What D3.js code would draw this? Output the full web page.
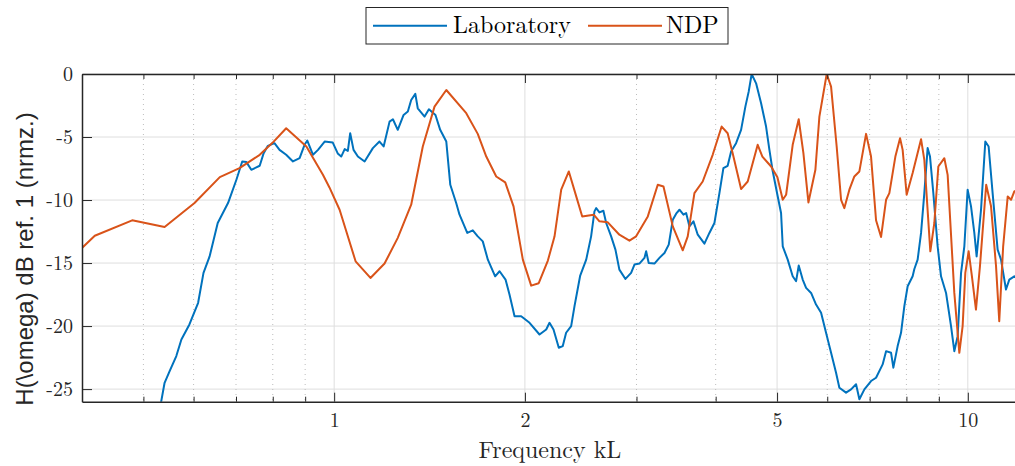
<!DOCTYPE html>
<html><head><meta charset="utf-8">
<script src="https://cdn.jsdelivr.net/npm/d3@7"></script>
<style>body{margin:0;background:#fff}svg{display:block}</style>
</head><body>
<svg id="chart" width="1015" height="466"></svg>
<script>
// ---- data ----
const seriesNames = ["Laboratory", "NDP"];
const labFreq = [0.532,0.540,0.550,0.5635,0.574,0.591,0.610,0.622,0.636,0.655,0.680,0.701,0.716,0.727,0.740,0.763,0.774,0.786,0.805,0.820,0.840,0.861,0.882,0.898,0.907,0.926,0.943,0.966,0.995,1.013,1.026,1.039,1.051,1.060,1.073,1.090,1.117,1.151,1.179,1.197,1.223,1.238,1.260,1.287,1.307,1.323,1.343,1.355,1.389,1.411,1.445,1.470,1.503,1.525,1.558,1.577,1.622,1.655,1.685,1.716,1.748,1.795,1.824,1.864,1.891,1.926,1.973,2.034,2.109,2.161,2.187,2.219,2.262,2.295,2.323,2.366,2.395,2.445,2.499,2.544,2.575,2.591,2.622,2.660,2.687,2.736,2.779,2.819,2.882,2.942,2.978,3.032,3.088,3.107,3.136,3.202,3.261,3.321,3.373,3.423,3.465,3.507,3.558,3.593,3.636,3.690,3.748,3.840,3.910,3.982,4.055,4.114,4.178,4.231,4.308,4.387,4.456,4.510,4.559,4.633,4.718,4.804,4.862,4.921,5.011,5.073,5.104,5.197,5.292,5.358,5.409,5.488,5.556,5.658,5.761,5.867,5.974,6.084,6.195,6.270,6.424,6.542,6.662,6.743,6.867,7.035,7.164,7.338,7.430,7.566,7.629,7.749,7.845,7.940,8.036,8.183,8.234,8.333,8.437,8.538,8.641,8.716,8.822,8.961,9.072,9.239,9.408,9.521,9.637,9.757,9.874,9.993,10.117,10.239,10.325,10.491,10.656,10.785,10.943,11.144,11.282,11.487,11.627,11.84,12.0];
const labDb = [-26.3,-24.5,-23.57,-22.38,-21.06,-19.87,-18.15,-15.78,-14.47,-11.82,-10.24,-8.39,-6.94,-6.99,-7.6,-7.28,-6.28,-5.7,-5.49,-6.02,-6.41,-6.94,-6.68,-5.62,-5.28,-6.41,-6.02,-5.36,-5.44,-6.3,-6.55,-5.96,-6.1,-4.7,-6.02,-6.55,-6.94,-5.88,-5.36,-5.75,-3.78,-3.59,-4.43,-3.25,-2.98,-2.06,-1.58,-2.72,-3.38,-2.8,-3.25,-4.43,-5.36,-8.79,-10.24,-11.16,-12.61,-12.4,-12.88,-13.28,-14.73,-16.05,-15.65,-16.31,-17.5,-19.22,-19.22,-19.74,-20.67,-20.27,-19.74,-20.27,-21.72,-21.59,-20.53,-20.0,-18.42,-15.99,-14.73,-12.88,-10.9,-10.64,-10.98,-10.85,-11.82,-12.88,-13.93,-15.52,-16.26,-15.78,-15.12,-15.04,-14.59,-14.07,-14.99,-15.04,-14.59,-14.2,-13.54,-11.56,-11.08,-10.77,-11.16,-11.03,-12.09,-11.69,-12.75,-13.46,-12.61,-11.82,-9.45,-7.47,-7.28,-6.15,-5.49,-4.43,-2.59,-1.4,0,-0.74,-2.32,-4.17,-6.0,-7.7,-9.7,-11.03,-13.67,-14.73,-16.05,-16.44,-15.2,-16.31,-16.97,-17.37,-18.29,-18.95,-20.53,-22.12,-23.7,-24.89,-25.28,-25.02,-24.62,-25.81,-25.02,-24.36,-24.1,-23.04,-21.99,-22.12,-23.3,-21.59,-20.53,-18.42,-16.84,-16.05,-15.47,-14.73,-12.61,-9.45,-5.88,-6.55,-9.45,-13.67,-16.05,-17.37,-20.0,-21.99,-20.8,-15.78,-13.67,-9.18,-10.5,-12.61,-14.47,-10.77,-5.36,-5.75,-9.45,-13.93,-14.73,-17.1,-16.31,-16.05,-16.3];
const ndpFreq = [0.400,0.419,0.480,0.540,0.602,0.660,0.709,0.763,0.800,0.840,0.904,0.960,0.983,1.020,1.081,1.141,1.201,1.260,1.323,1.380,1.440,1.503,1.616,1.685,1.738,1.802,1.862,1.919,1.985,2.046,2.103,2.174,2.227,2.282,2.346,2.410,2.463,2.568,2.622,2.703,2.819,2.924,2.996,3.126,3.241,3.309,3.423,3.549,3.614,3.703,3.816,3.957,4.088,4.178,4.255,4.387,4.494,4.660,4.740,4.893,5.006,5.104,5.167,5.292,5.409,5.502,5.603,5.747,5.831,5.988,6.084,6.209,6.309,6.385,6.502,6.621,6.743,6.909,7.035,7.164,7.296,7.430,7.519,7.685,7.817,7.891,8.007,8.183,8.437,8.538,8.726,8.854,8.984,9.182,9.293,9.521,9.696,9.813,9.909,10.03,10.15,10.30,10.45,10.69,10.88,11.08,11.21,11.37,11.56,11.70,11.84,12.0];
const ndpDb = [-13.8,-12.83,-11.61,-12.14,-10.24,-8.18,-7.47,-6.41,-5.44,-4.30,-5.75,-8.0,-9.0,-10.77,-14.86,-16.18,-15.04,-13.0,-10.37,-5.75,-2.59,-1.27,-3.11,-4.75,-6.55,-8.13,-8.6,-10.5,-14.73,-16.79,-16.6,-14.8,-12.9,-9.18,-7.73,-9.71,-11.3,-11.16,-11.69,-11.77,-12.75,-13.22,-12.88,-11.3,-8.79,-8.92,-12.09,-13.99,-12.88,-9.45,-8.53,-6.41,-4.17,-4.7,-6.28,-9.13,-8.53,-5.62,-6.55,-7.34,-8.2,-9.98,-9.58,-5.62,-3.59,-6.28,-10.19,-7.6,-3.38,0,-1.0,-5.75,-9.98,-10.64,-9.18,-8.13,-7.73,-4.75,-6.55,-11.6,-12.93,-9.98,-9.45,-6.55,-5.09,-6.02,-9.58,-7.86,-5.17,-6.81,-14.07,-11.82,-7.34,-6.68,-8.0,-17.37,-22.12,-20.0,-15.78,-14.07,-16.05,-18.69,-15.26,-8.79,-10.5,-15.26,-19.61,-13.67,-9.71,-9.98,-9.32,-9.2];
const xMajorTicks = [1, 2, 5, 10];
const xTickLabels = ["1", "2", "5", "10"];
const xMinorTicks = [0.5, 0.6, 0.7, 0.8, 0.9, 3, 4, 6, 7, 8, 9];
const yTicks = [0, -5, -10, -15, -20, -25];
const yTickLabels = ["0", "-5", "-10", "-15", "-20", "-25"];
const xLabel = "Frequency kL";
const yLabel = "H(\\omega) dB ref. 1 (nrmz.)";

// ---- layout ----
const colors = ["#0072BD", "#D95319"];
const axisColor = "#262626";
const L = 82, R = 1018, T = 74, B = 401.7;
const SERIF = '"Latin Modern Roman"';
const SANS = '"Liberation Sans"';
const svg = d3.select("#chart");
const x = d3.scaleLog().domain([0.4, 12]).range([L, R]);
const y = d3.scaleLinear().domain([-26, 0]).range([B, T]);

// grid
const grid = svg.append("g");
grid.selectAll("line.ym").data(yTicks).join("line")
  .attr("x1", L).attr("x2", R).attr("y1", d => y(d)).attr("y2", d => y(d))
  .attr("stroke", "#dedede").attr("stroke-width", 1);
grid.selectAll("line.xm").data(xMajorTicks).join("line")
  .attr("x1", d => x(d)).attr("x2", d => x(d)).attr("y1", T).attr("y2", B)
  .attr("stroke", "#dedede").attr("stroke-width", 1);
grid.selectAll("line.xn").data(xMinorTicks).join("line")
  .attr("x1", d => x(d)).attr("x2", d => x(d)).attr("y1", T).attr("y2", B)
  .attr("stroke", "#bdbdbd").attr("stroke-width", 1).attr("stroke-dasharray", "1,4");

// clip
svg.append("clipPath").attr("id", "clip").append("rect")
  .attr("x", L).attr("y", T).attr("width", R - L).attr("height", B - T);

const line = d3.line().x(d => x(d[0])).y(d => y(d[1]));
const plot = svg.append("g").attr("clip-path", "url(#clip)");
const series = [d3.zip(labFreq, labDb), d3.zip(ndpFreq, ndpDb)];
series.forEach((s, i) => {
  plot.append("path").datum(s).attr("d", line)
    .attr("fill", "none").attr("stroke", colors[i]).attr("stroke-width", 2)
    .attr("stroke-linejoin", "round");
});

// axes
function styleAxis(g) {
  g.attr("font-family", null).attr("font-size", null);
  g.select(".domain").attr("stroke", axisColor).attr("stroke-width", 1.5);
  g.selectAll(".tick line").attr("stroke", axisColor).attr("stroke-width", 1);
  g.selectAll(".tick text").attr("fill", axisColor).style("font-family", SERIF).style("font-size", "20px");
}
const xb = svg.append("g").attr("transform", `translate(0,${B})`)
  .call(d3.axisBottom(x).tickValues(xMajorTicks).tickFormat((d, i) => xTickLabels[i]).tickSizeInner(-9).tickSizeOuter(0).tickPadding(11));
styleAxis(xb);
const xbm = svg.append("g").attr("transform", `translate(0,${B})`)
  .call(d3.axisBottom(x).tickValues(xMinorTicks).tickFormat("").tickSizeInner(-5).tickSizeOuter(0));
styleAxis(xbm); xbm.select(".domain").remove();
const xt = svg.append("g").attr("transform", `translate(0,${T})`)
  .call(d3.axisTop(x).tickValues(xMajorTicks).tickFormat("").tickSizeInner(-9).tickSizeOuter(0));
styleAxis(xt);
const xtm = svg.append("g").attr("transform", `translate(0,${T})`)
  .call(d3.axisTop(x).tickValues(xMinorTicks).tickFormat("").tickSizeInner(-5).tickSizeOuter(0));
styleAxis(xtm); xtm.select(".domain").remove();
const yl = svg.append("g").attr("transform", `translate(${L},0)`)
  .call(d3.axisLeft(y).tickValues(yTicks).tickFormat((d, i) => yTickLabels[i]).tickSizeInner(-10).tickSizeOuter(0).tickPadding(9));
styleAxis(yl);

// labels
svg.append("text").attr("x", (L + R) / 2).attr("y", 457.5).attr("text-anchor", "middle")
  .style("font-family", SERIF).style("font-size", "24px")
  .attr("fill", axisColor).text(xLabel);
svg.append("text").attr("transform", "translate(33,259) rotate(-90)").attr("text-anchor", "middle")
  .style("font-family", SANS).style("font-size", "24px")
  .attr("fill", axisColor).text(yLabel);

// legend
const lg = svg.append("g");
lg.append("rect").attr("x", 366).attr("y", 7.5).attr("width", 362).attr("height", 36.5)
  .attr("fill", "#fff").attr("stroke", axisColor).attr("stroke-width", 1);
const legendItems = [{x0: 373, x1: 447, tx: 453}, {x0: 588, x1: 662, tx: 666}];
legendItems.forEach((it, i) => {
  lg.append("line").attr("x1", it.x0).attr("x2", it.x1).attr("y1", 25.7).attr("y2", 25.7)
    .attr("stroke", colors[i]).attr("stroke-width", 2);
  lg.append("text").attr("x", it.tx).attr("y", 32.5)
    .style("font-family", SERIF).style("font-size", "24px")
    .attr("fill", "#000").text(seriesNames[i]);
});
</script>
</body></html>
